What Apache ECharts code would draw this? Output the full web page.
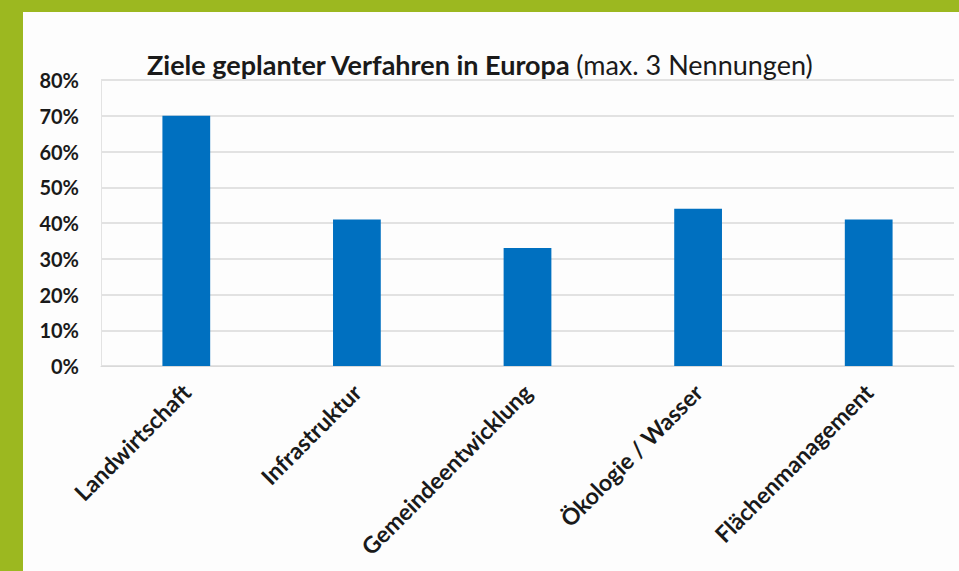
<!DOCTYPE html>
<html>
<head>
<meta charset="utf-8">
<script src="https://cdn.jsdelivr.net/npm/echarts@6/dist/echarts.min.js"></script>
<style>
  html, body { margin: 0; padding: 0; width: 959px; height: 571px; background: #9cb820; overflow: hidden; }
  #chart { position: absolute; left: 23px; top: 12px; width: 936px; height: 559px; background: #fdfdfd; }
</style>
</head>
<body>
<div id="chart"></div>
<script>
var categories = ['Landwirtschaft', 'Infrastruktur', 'Gemeindeentwicklung', 'Ökologie / Wasser', 'Flächenmanagement'];
var shares = [70, 41, 33, 44, 41];
var yTicks = [0, 10, 20, 30, 40, 50, 60, 70, 80];

var chart = echarts.init(document.getElementById('chart'), null, { renderer: 'svg' });
chart.setOption({
  animation: false,
  title: {
    text: '{b|Ziele geplanter Verfahren in Europa} {n|(max. 3 Nennungen)}',
    left: 119,
    top: 34,
    textStyle: {
      rich: {
        b: { fontFamily: 'Lato', fontWeight: 'bold', fontSize: 27, color: '#1a1a1a' },
        n: { fontFamily: 'Lato', fontWeight: 'normal', fontSize: 27, color: '#1a1a1a' }
      }
    }
  },
  grid: { left: 78, right: 5, top: 68, bottom: 205 },
  xAxis: {
    type: 'category',
    data: categories,
    axisLine: { lineStyle: { color: '#d9d9d9' } },
    axisTick: { show: false },
    axisLabel: {
      rotate: 45,
      interval: 0,
      margin: 22,
      fontFamily: 'Lato',
      fontWeight: 'bold',
      fontSize: 23,
      color: '#1a1a1a'
    }
  },
  yAxis: {
    type: 'value',
    min: yTicks[0],
    max: yTicks[yTicks.length - 1],
    interval: 10,
    axisLine: { show: true, lineStyle: { color: '#e3e3e3' } },
    axisTick: { show: false },
    splitLine: { lineStyle: { color: '#d9d9d9', width: 1.5 } },
    axisLabel: {
      formatter: '{value}%',
      margin: 22,
      fontFamily: 'Lato',
      fontWeight: 'bold',
      fontSize: 20,
      color: '#1a1a1a'
    }
  },
  series: [{
    type: 'bar',
    data: shares,
    barWidth: '28%',
    itemStyle: { color: '#0070c0' }
  }]
});
</script>
</body>
</html>
